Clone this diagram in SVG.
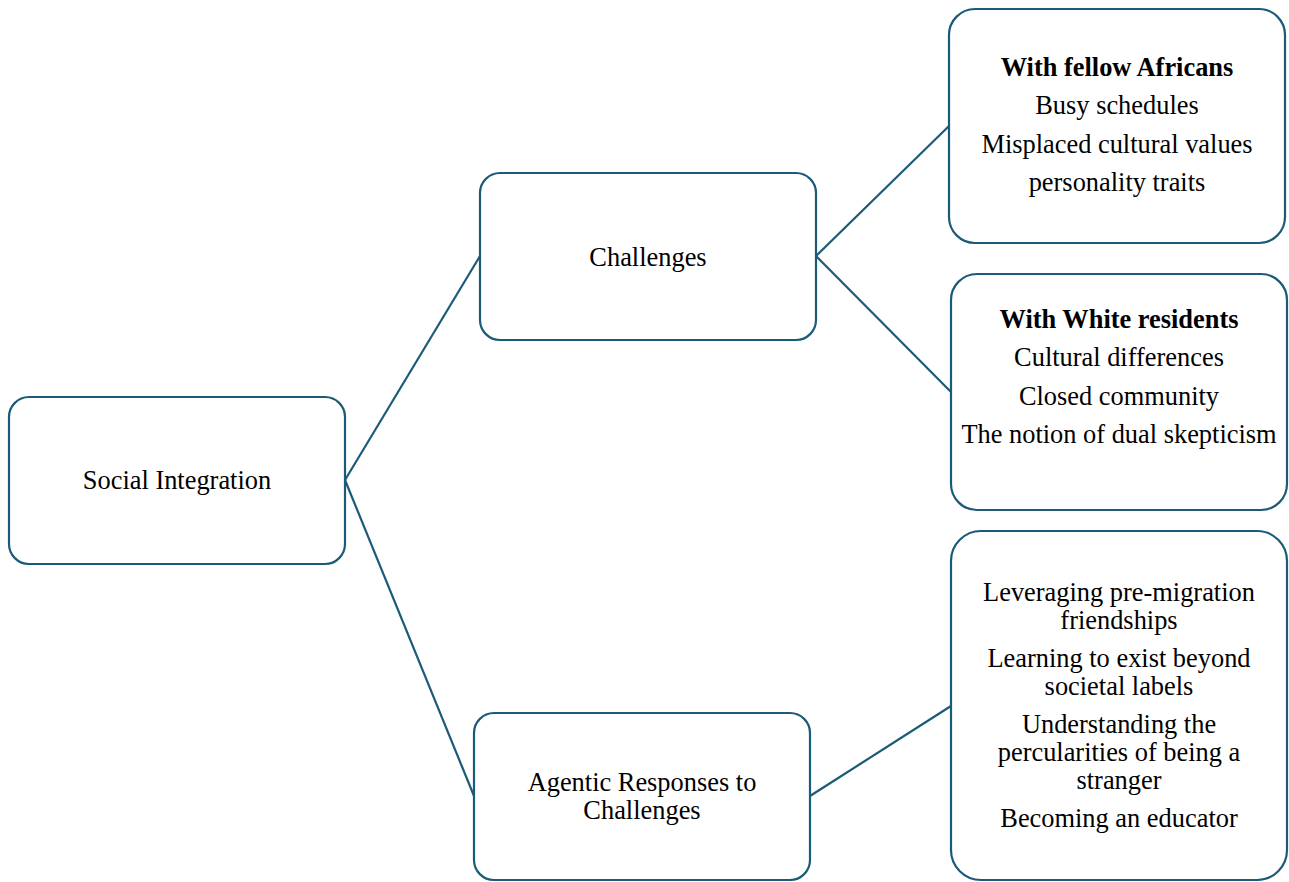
<svg xmlns="http://www.w3.org/2000/svg" width="1289" height="882" viewBox="0 0 1289 882">
<style>
.box{fill:#fff;stroke:#1b5a78;stroke-width:2.2}
.c line{stroke:#1b5a78;stroke-width:2.2}
text{font-family:"Liberation Serif","Times New Roman",serif;font-size:26.4px;fill:#000;text-anchor:middle}
.b{font-weight:bold}
</style>
<rect width="1289" height="882" fill="#fff"/>
<g class="c" id="connectors">
<line x1="345" y1="480" x2="480" y2="256"/>
<line x1="345" y1="480" x2="474" y2="796"/>
<line x1="816" y1="256" x2="949" y2="126"/>
<line x1="816" y1="256" x2="951" y2="392"/>
<line x1="810" y1="796" x2="951" y2="706"/>
</g>
<g id="social">
<rect class="box" x="9" y="397" width="336" height="167" rx="20"/>
<text x="177" y="489">Social Integration</text>
</g>
<g id="challenges">
<rect class="box" x="480" y="173" width="336" height="167" rx="20"/>
<text x="648" y="266">Challenges</text>
</g>
<g id="agentic">
<rect class="box" x="474" y="713" width="336" height="167" rx="20"/>
<text x="642" y="791">Agentic Responses to</text>
<text x="642" y="819">Challenges</text>
</g>
<g id="africans">
<rect class="box" x="949" y="9" width="336" height="234" rx="26"/>
<text class="b" x="1117" y="76">With fellow Africans</text>
<text x="1117" y="114">Busy schedules</text>
<text x="1117" y="153">Misplaced cultural values</text>
<text x="1117" y="191">personality traits</text>
</g>
<g id="white">
<rect class="box" x="951" y="274" width="336" height="236" rx="26"/>
<text class="b" x="1119" y="328">With White residents</text>
<text x="1119" y="366">Cultural differences</text>
<text x="1119" y="405">Closed community</text>
<text x="1119" y="443">The notion of dual skepticism</text>
</g>
<g id="responses">
<rect class="box" x="951" y="531" width="336" height="349" rx="30"/>
<text x="1119" y="601">Leveraging pre-migration</text>
<text x="1119" y="629">friendships</text>
<text x="1119" y="667">Learning to exist beyond</text>
<text x="1119" y="695">societal labels</text>
<text x="1119" y="733">Understanding the</text>
<text x="1119" y="761">percularities of being a</text>
<text x="1119" y="789">stranger</text>
<text x="1119" y="827">Becoming an educator</text>
</g>
</svg>
